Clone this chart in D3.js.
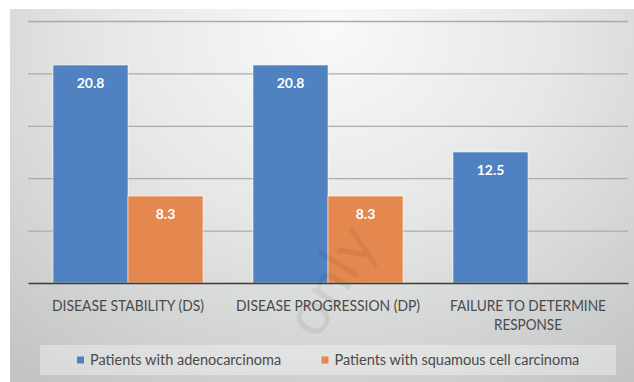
<!DOCTYPE html>
<html>
<head>
<meta charset="utf-8">
<script src="https://cdn.jsdelivr.net/npm/d3@7"></script>
<style>
  html, body { margin: 0; padding: 0; background: #ffffff; }
  svg { display: block; }
</style>
</head>
<body>
<svg id="chart" width="634" height="382"></svg>
<script>
// ---- data ----
const categories = ["DISEASE STABILITY (DS)", "DISEASE PROGRESSION (DP)", "FAILURE TO DETERMINE RESPONSE"];
const categoryLines = [["DISEASE STABILITY (DS)"], ["DISEASE PROGRESSION (DP)"], ["FAILURE TO DETERMINE", "RESPONSE"]];
const seriesNames = ["Patients with adenocarcinoma", "Patients with squamous cell carcinoma"];
const adenocarcinoma = [20.8, 20.8, 12.5];
const squamous = [8.3, 8.3, null];
const yTicks = [0, 5, 10, 15, 20, 25];
const colors = ["#5081c1", "#e4884f"];
const labelWidths = [[152], [184], [156, 68]];

const seriesValues = [adenocarcinoma, squamous];
const rows = categories.map((c, i) => ({
  cat: c,
  vals: seriesNames.map((s, j) => ({ series: s, value: seriesValues[j][i], idx: j }))
}));

const svg = d3.select("#chart");
const W = 634, H = 382;

// background gradient
const defs = svg.append("defs");
const grad = defs.append("radialGradient")
  .attr("id", "bg").attr("gradientUnits", "userSpaceOnUse")
  .attr("cx", 330).attr("cy", 30).attr("r", 430)
  .attr("gradientTransform", "translate(330,30) scale(1.15,1) translate(-330,-30)");
grad.append("stop").attr("offset", 0).attr("stop-color", "#f9f9f9");
grad.append("stop").attr("offset", 0.45).attr("stop-color", "#e6e7e7");
grad.append("stop").attr("offset", 1).attr("stop-color", "#c3c4c4");

svg.append("rect").attr("x", 10).attr("y", 9).attr("width", W - 10).attr("height", H - 9)
  .attr("fill", "url(#bg)");

const plot = { left: 28, right: 628, top: 21, bottom: 283 };

const x0 = d3.scaleBand().domain(categories).range([plot.left, plot.right]).padding(0);
const x1 = d3.scaleBand().domain(seriesNames).range([0, x0.bandwidth()]).paddingInner(0).paddingOuter(1/3);
const y = d3.scaleLinear().domain([0, 25]).range([plot.bottom, plot.top]);

// gridlines
const grid = svg.append("g")
  .attr("transform", `translate(${plot.left},0)`)
  .call(d3.axisLeft(y).tickValues(yTicks).tickSize(-(plot.right - plot.left)).tickFormat(""));
grid.select(".domain").remove();
grid.selectAll(".tick line").attr("stroke", "#a9abab").attr("stroke-width", 1.3)
  .attr("opacity", d => d === 0 ? 0 : 1);

// bars
const groups = svg.append("g").selectAll("g").data(rows).join("g")
  .attr("transform", d => `translate(${x0(d.cat)},0)`);

groups.selectAll("rect").data(d => d.vals.filter(v => v.value != null)).join("rect")
  .attr("x", d => x1(d.series))
  .attr("y", d => y(d.value))
  .attr("width", x1.bandwidth())
  .attr("height", d => y(0) - y(d.value))
  .attr("fill", d => colors[d.idx])
  .attr("stroke", "rgba(255,255,255,0.55)")
  .attr("stroke-width", 1);

groups.selectAll("text.val").data(d => d.vals.filter(v => v.value != null)).join("text")
  .attr("class", "val")
  .attr("x", d => x1(d.series) + x1.bandwidth() / 2)
  .attr("y", d => y(d.value) + 23)
  .attr("text-anchor", "middle")
  .attr("font-family", "Lato, 'Open Sans', sans-serif")
  .attr("font-weight", "bold")
  .attr("font-size", 14)
  .attr("fill", "#ffffff")
  .text(d => d.value.toFixed(1));

// baseline (x axis)
const xAxis = svg.append("g")
  .attr("transform", `translate(0,${plot.bottom})`)
  .call(d3.axisBottom(x0).tickSize(0).tickFormat(""));
xAxis.select(".domain").attr("stroke", "#3a3a3a").attr("stroke-width", 1.6);

// category labels
const catLabels = svg.append("g").selectAll("text").data(categories).join("text")
  .attr("x", d => x0(d) + x0.bandwidth() / 2)
  .attr("y", 311)
  .attr("text-anchor", "middle")
  .attr("font-family", "Lato, 'Open Sans', sans-serif")
  .attr("font-size", 14.5)
  .attr("fill", "#4a4a4a");
catLabels.each(function(d, i) {
  const t = d3.select(this);
  categoryLines[i].forEach((line, k) => {
    t.append("tspan").attr("x", x0(d) + x0.bandwidth() / 2).attr("dy", k === 0 ? 0 : 19)
      .attr("textLength", labelWidths[i][k]).attr("lengthAdjust", "spacingAndGlyphs")
      .text(line);
  });
});

// legend
svg.append("rect").attr("x", 40).attr("y", 345).attr("width", 576).attr("height", 30)
  .attr("fill", "#ffffff").attr("opacity", 0.35);
const legendX = [77, 321.5];
const leg = svg.append("g").selectAll("g").data(seriesNames).join("g")
  .attr("transform", (d, i) => `translate(${legendX[i]},356.5)`);
leg.append("rect").attr("width", 7).attr("height", 7).attr("fill", (d, i) => colors[i]);
leg.append("text").attr("x", 13).attr("y", 8)
  .attr("font-family", "Lato, 'Open Sans', sans-serif")
  .attr("font-size", 14.5).attr("fill", "#4a4a4a")
  .text(d => d);

// faint watermark
svg.append("text")
  .attr("transform", "translate(348,292) rotate(-58)")
  .attr("text-anchor", "middle")
  .attr("font-family", "Lato, 'Open Sans', sans-serif")
  .attr("font-size", 62)
  .attr("fill", "#000")
  .attr("opacity", 0.06)
  .text("only");
</script>
</body>
</html>
